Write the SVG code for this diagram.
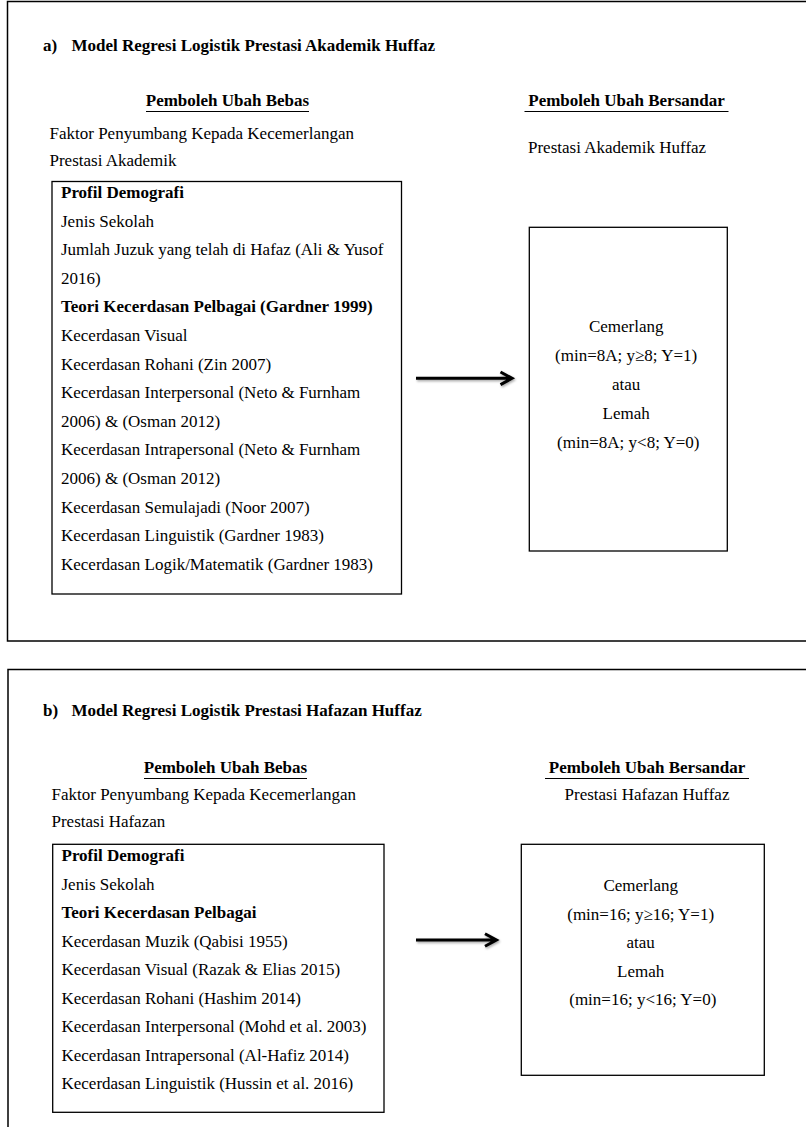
<svg xmlns="http://www.w3.org/2000/svg" width="806" height="1127" viewBox="0 0 806 1127">
  <style>
    .t { font-family: "Liberation Serif", "Times New Roman", serif; font-size: 17px; fill: #000; }
    .b { font-weight: bold; }
    .c { text-anchor: middle; }
    .frame { fill: none; stroke: #000; stroke-width: 1.5; }
    .box { fill: #fff; stroke: #000; stroke-width: 1.3; }
    .ul { stroke: #000; stroke-width: 1.2; }
    .arrow { fill: none; stroke: #000; stroke-width: 3; filter: url(#shadow); }
  </style>
  <defs>
    <filter id="shadow" x="-10%" y="-100%" width="130%" height="300%">
      <feDropShadow dx="1" dy="1.5" stdDeviation="1.2" flood-color="#000" flood-opacity="0.35"/>
    </filter>
  </defs>
  <rect width="806" height="1127" fill="#fff"/>

  <!-- Section a -->
  <g id="section-a">
    <rect class="frame" x="7.5" y="1.5" width="830" height="639.5"/>
    <text class="t b" x="43" y="51">a)</text>
    <text class="t b" x="71.5" y="51">Model Regresi Logistik Prestasi Akademik Huffaz</text>
  </g>
  <g id="label-a-bebas">
    <text class="t b c" x="227.5" y="106">Pemboleh Ubah Bebas</text>
    <line class="ul" x1="146" y1="111.5" x2="309" y2="111.5"/>
    <text class="t" x="49.5" y="139">Faktor Penyumbang Kepada Kecemerlangan</text>
    <text class="t" x="49.5" y="166">Prestasi Akademik</text>
  </g>
  <g id="label-a-bersandar">
    <text class="t b c" x="626.5" y="106">Pemboleh Ubah Bersandar</text>
    <line class="ul" x1="524.5" y1="111.5" x2="728.5" y2="111.5"/>
    <text class="t" x="528" y="153">Prestasi Akademik Huffaz</text>
  </g>
  <g id="node-a-bebas">
    <rect class="box" x="52" y="181.5" width="349.5" height="412.5"/>
    <text class="t" x="61">
      <tspan class="b" x="61" y="198">Profil Demografi</tspan>
      <tspan x="61" y="226.6">Jenis Sekolah</tspan>
      <tspan x="61" y="255.2">Jumlah Juzuk yang telah di Hafaz (Ali &amp; Yusof</tspan>
      <tspan x="61" y="283.8">2016)</tspan>
      <tspan class="b" x="61" y="312.4">Teori Kecerdasan Pelbagai (Gardner 1999)</tspan>
      <tspan x="61" y="341">Kecerdasan Visual</tspan>
      <tspan x="61" y="369.6">Kecerdasan Rohani (Zin 2007)</tspan>
      <tspan x="61" y="398.2">Kecerdasan Interpersonal (Neto &amp; Furnham</tspan>
      <tspan x="61" y="426.8">2006) &amp; (Osman 2012)</tspan>
      <tspan x="61" y="455.4">Kecerdasan Intrapersonal (Neto &amp; Furnham</tspan>
      <tspan x="61" y="484">2006) &amp; (Osman 2012)</tspan>
      <tspan x="61" y="512.6">Kecerdasan Semulajadi (Noor 2007)</tspan>
      <tspan x="61" y="541.2">Kecerdasan Linguistik (Gardner 1983)</tspan>
      <tspan x="61" y="569.8">Kecerdasan Logik/Matematik (Gardner 1983)</tspan>
    </text>
  </g>
  <g id="node-a-bersandar">
    <rect class="box" x="529.3" y="227.3" width="198" height="323.7"/>
    <text class="t c">
      <tspan x="628.3" y="332">Cemerlang</tspan>
      <tspan x="628.3" y="361">(min=8A; y≥8; Y=1)</tspan>
      <tspan x="628.3" y="390">atau</tspan>
      <tspan x="628.3" y="419">Lemah</tspan>
      <tspan x="628.3" y="448">(min=8A; y&lt;8; Y=0)</tspan>
    </text>
  </g>

  <!-- Section b -->
  <g id="section-b">
    <rect class="frame" x="8" y="669.5" width="830" height="520"/>
    <text class="t b" x="43" y="716">b)</text>
    <text class="t b" x="71.5" y="716">Model Regresi Logistik Prestasi Hafazan Huffaz</text>
  </g>
  <g id="label-b-bebas">
    <text class="t b c" x="225.5" y="773">Pemboleh Ubah Bebas</text>
    <line class="ul" x1="144" y1="778.5" x2="307" y2="778.5"/>
    <text class="t" x="51.5" y="800">Faktor Penyumbang Kepada Kecemerlangan</text>
    <text class="t" x="51.5" y="827">Prestasi Hafazan</text>
  </g>
  <g id="label-b-bersandar">
    <text class="t b c" x="647" y="773">Pemboleh Ubah Bersandar</text>
    <line class="ul" x1="545" y1="778.5" x2="749" y2="778.5"/>
    <text class="t c" x="647" y="800">Prestasi Hafazan Huffaz</text>
  </g>
  <g id="node-b-bebas">
    <rect class="box" x="52.7" y="844.3" width="331.3" height="268"/>
    <text class="t">
      <tspan class="b" x="61.5" y="861">Profil Demografi</tspan>
      <tspan x="61.5" y="889.5">Jenis Sekolah</tspan>
      <tspan class="b" x="61.5" y="918">Teori Kecerdasan Pelbagai</tspan>
      <tspan x="61.5" y="946.5">Kecerdasan Muzik (Qabisi 1955)</tspan>
      <tspan x="61.5" y="975">Kecerdasan Visual (Razak &amp; Elias 2015)</tspan>
      <tspan x="61.5" y="1003.5">Kecerdasan Rohani (Hashim 2014)</tspan>
      <tspan x="61.5" y="1032">Kecerdasan Interpersonal (Mohd et al. 2003)</tspan>
      <tspan x="61.5" y="1060.5">Kecerdasan Intrapersonal (Al-Hafiz 2014)</tspan>
      <tspan x="61.5" y="1089">Kecerdasan Linguistik (Hussin et al. 2016)</tspan>
    </text>
  </g>
  <g id="node-b-bersandar">
    <rect class="box" x="521.3" y="844.3" width="243" height="231"/>
    <text class="t c">
      <tspan x="642.8" y="891">Cemerlang</tspan>
      <tspan x="642.8" y="919.5">(min=16; y≥16; Y=1)</tspan>
      <tspan x="642.8" y="948">atau</tspan>
      <tspan x="642.8" y="976.5">Lemah</tspan>
      <tspan x="642.8" y="1005">(min=16; y&lt;16; Y=0)</tspan>
    </text>
  </g>

  <!-- Connectors -->
  <g id="connectors">
    <path class="arrow" d="M416 378.3 H511 M500.5 372 L512 378.3 L500.5 384.6"/>
    <path class="arrow" d="M416 940 H495.5 M485 933.7 L496.5 940 L485 946.3"/>
  </g>
</svg>
